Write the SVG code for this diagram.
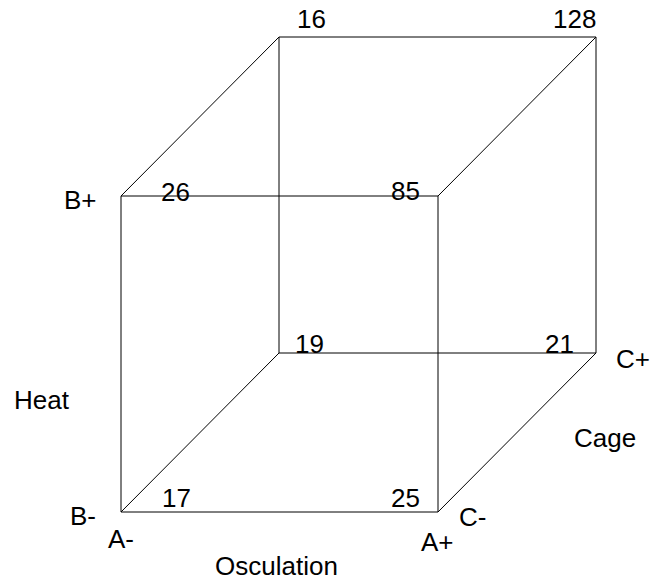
<svg xmlns="http://www.w3.org/2000/svg" width="654" height="582" viewBox="0 0 654 582">
<style>
.e{stroke:#000;stroke-width:1;fill:none}
text{font-family:"Liberation Sans",Arial,sans-serif;font-size:26px;fill:#000}
</style>
<rect width="654" height="582" fill="#fff"/>
<g id="connectors">
<line class="e" x1="121" y1="196" x2="438" y2="196"/>
<line class="e" x1="121" y1="512" x2="438" y2="512"/>
<line class="e" x1="121" y1="196" x2="121" y2="512"/>
<line class="e" x1="438" y1="196" x2="438" y2="512"/>
<line class="e" x1="279" y1="37" x2="596" y2="37"/>
<line class="e" x1="279" y1="353" x2="596" y2="353"/>
<line class="e" x1="279" y1="37" x2="279" y2="353"/>
<line class="e" x1="596" y1="37" x2="596" y2="353"/>
<line class="e" x1="121" y1="196" x2="279" y2="37"/>
<line class="e" x1="438" y1="196" x2="596" y2="37"/>
<line class="e" x1="121" y1="512" x2="279" y2="353"/>
<line class="e" x1="438" y1="512" x2="596" y2="353"/>
</g>
<g id="v16"><text x="297" y="28">16</text></g>
<g id="v128"><text x="553" y="28">128</text></g>
<g id="v26"><text x="161" y="201">26</text></g>
<g id="v85"><text x="391" y="200">85</text></g>
<g id="v19"><text x="295" y="353">19</text></g>
<g id="v21"><text x="545" y="353">21</text></g>
<g id="v17"><text x="162" y="507">17</text></g>
<g id="v25"><text x="391" y="507">25</text></g>
<g id="lBplus"><text x="64" y="209">B+</text></g>
<g id="lBminus"><text x="70" y="525">B-</text></g>
<g id="lAminus"><text x="108" y="548">A-</text></g>
<g id="lAplus"><text x="421" y="551">A+</text></g>
<g id="lCminus"><text x="459" y="526">C-</text></g>
<g id="lCplus"><text x="616" y="368">C+</text></g>
<g id="lHeat"><text x="14" y="409">Heat</text></g>
<g id="lCage"><text x="574" y="447">Cage</text></g>
<g id="lOsculation"><text x="215" y="575">Osculation</text></g>
</svg>
